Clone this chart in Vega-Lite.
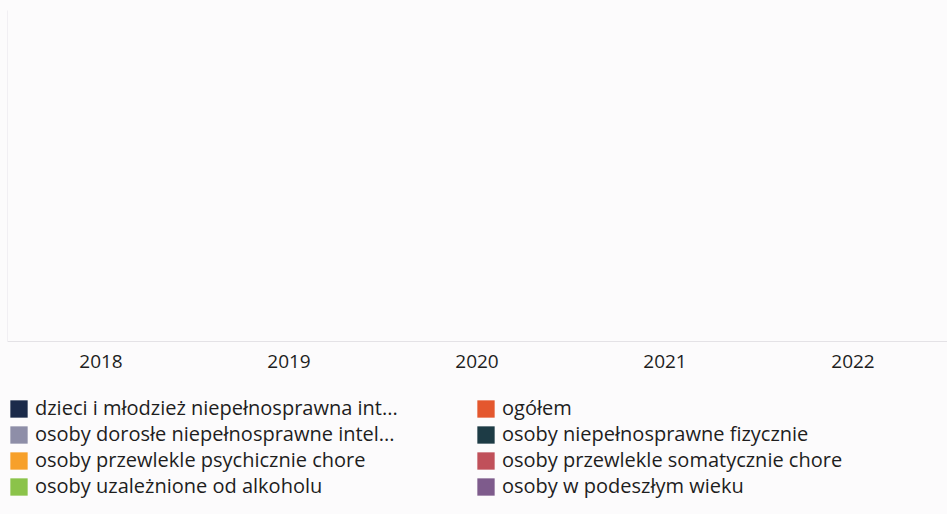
{
  "$schema": "https://vega.github.io/schema/vega-lite/v6.json",
  "width": 940,
  "height": 331,
  "padding": {"left": 7, "top": 10, "right": 0, "bottom": 30},
  "background": "#fcfbfc",
  "config": {"view": {"stroke": null}, "font": "Open Sans"},
  "data": {
    "values": [
      {"rok": "2018", "grupa": "dzieci i młodzież niepełnosprawna int...", "liczba": 0},
      {"rok": "2018", "grupa": "ogółem", "liczba": 0},
      {"rok": "2018", "grupa": "osoby dorosłe niepełnosprawne intel...", "liczba": 0},
      {"rok": "2018", "grupa": "osoby niepełnosprawne fizycznie", "liczba": 0},
      {"rok": "2018", "grupa": "osoby przewlekle psychicznie chore", "liczba": 0},
      {"rok": "2018", "grupa": "osoby przewlekle somatycznie chore", "liczba": 0},
      {"rok": "2018", "grupa": "osoby uzależnione od alkoholu", "liczba": 0},
      {"rok": "2018", "grupa": "osoby w podeszłym wieku", "liczba": 0},
      {"rok": "2019", "grupa": "dzieci i młodzież niepełnosprawna int...", "liczba": 0},
      {"rok": "2019", "grupa": "ogółem", "liczba": 0},
      {"rok": "2019", "grupa": "osoby dorosłe niepełnosprawne intel...", "liczba": 0},
      {"rok": "2019", "grupa": "osoby niepełnosprawne fizycznie", "liczba": 0},
      {"rok": "2019", "grupa": "osoby przewlekle psychicznie chore", "liczba": 0},
      {"rok": "2019", "grupa": "osoby przewlekle somatycznie chore", "liczba": 0},
      {"rok": "2019", "grupa": "osoby uzależnione od alkoholu", "liczba": 0},
      {"rok": "2019", "grupa": "osoby w podeszłym wieku", "liczba": 0},
      {"rok": "2020", "grupa": "dzieci i młodzież niepełnosprawna int...", "liczba": 0},
      {"rok": "2020", "grupa": "ogółem", "liczba": 0},
      {"rok": "2020", "grupa": "osoby dorosłe niepełnosprawne intel...", "liczba": 0},
      {"rok": "2020", "grupa": "osoby niepełnosprawne fizycznie", "liczba": 0},
      {"rok": "2020", "grupa": "osoby przewlekle psychicznie chore", "liczba": 0},
      {"rok": "2020", "grupa": "osoby przewlekle somatycznie chore", "liczba": 0},
      {"rok": "2020", "grupa": "osoby uzależnione od alkoholu", "liczba": 0},
      {"rok": "2020", "grupa": "osoby w podeszłym wieku", "liczba": 0},
      {"rok": "2021", "grupa": "dzieci i młodzież niepełnosprawna int...", "liczba": 0},
      {"rok": "2021", "grupa": "ogółem", "liczba": 0},
      {"rok": "2021", "grupa": "osoby dorosłe niepełnosprawne intel...", "liczba": 0},
      {"rok": "2021", "grupa": "osoby niepełnosprawne fizycznie", "liczba": 0},
      {"rok": "2021", "grupa": "osoby przewlekle psychicznie chore", "liczba": 0},
      {"rok": "2021", "grupa": "osoby przewlekle somatycznie chore", "liczba": 0},
      {"rok": "2021", "grupa": "osoby uzależnione od alkoholu", "liczba": 0},
      {"rok": "2021", "grupa": "osoby w podeszłym wieku", "liczba": 0},
      {"rok": "2022", "grupa": "dzieci i młodzież niepełnosprawna int...", "liczba": 0},
      {"rok": "2022", "grupa": "ogółem", "liczba": 0},
      {"rok": "2022", "grupa": "osoby dorosłe niepełnosprawne intel...", "liczba": 0},
      {"rok": "2022", "grupa": "osoby niepełnosprawne fizycznie", "liczba": 0},
      {"rok": "2022", "grupa": "osoby przewlekle psychicznie chore", "liczba": 0},
      {"rok": "2022", "grupa": "osoby przewlekle somatycznie chore", "liczba": 0},
      {"rok": "2022", "grupa": "osoby uzależnione od alkoholu", "liczba": 0},
      {"rok": "2022", "grupa": "osoby w podeszłym wieku", "liczba": 0}
    ]
  },
  "mark": {"type": "bar"},
  "encoding": {
    "x": {
      "field": "rok",
      "type": "nominal",
      "scale": {"paddingInner": 0.1, "paddingOuter": 0.05},
      "axis": {
        "title": null,
        "labelAngle": 0,
        "labelFontSize": 19,
        "labelColor": "#1e1e1e",
        "labelFont": "Open Sans",
        "labelPadding": 11,
        "ticks": false,
        "domainColor": "#e4e2e6",
        "domainWidth": 1,
        "grid": false
      }
    },
    "xOffset": {"field": "grupa", "type": "nominal"},
    "y": {
      "field": "liczba",
      "type": "quantitative",
      "scale": {"domain": [0, 100]},
      "axis": {
        "title": null,
        "labels": false,
        "ticks": false,
        "grid": false,
        "domainColor": "#f1eff3",
        "domainWidth": 1
      }
    },
    "color": {
      "field": "grupa",
      "type": "nominal",
      "scale": {
        "domain": [
          "dzieci i młodzież niepełnosprawna int...",
          "ogółem",
          "osoby dorosłe niepełnosprawne intel...",
          "osoby niepełnosprawne fizycznie",
          "osoby przewlekle psychicznie chore",
          "osoby przewlekle somatycznie chore",
          "osoby uzależnione od alkoholu",
          "osoby w podeszłym wieku"
        ],
        "range": ["#1b2a4a", "#e4572e", "#8e8ea8", "#1d3b45", "#f7a02a", "#c0505a", "#8bc34a", "#7e5b8c"]
      },
      "legend": {
        "title": null,
        "orient": "none",
        "legendX": 2,
        "legendY": 389,
        "direction": "horizontal",
        "columns": 2,
        "columnPadding": 78,
        "rowPadding": 6,
        "padding": 0,
        "symbolType": "square",
        "symbolSize": 300,
        "symbolStrokeWidth": 0,
        "symbolOpacity": 1,
        "labelFont": "Open Sans",
        "labelFontSize": 20,
        "labelColor": "#1e1e1e",
        "labelOffset": 6,
        "labelLimit": 500
      }
    }
  }
}
